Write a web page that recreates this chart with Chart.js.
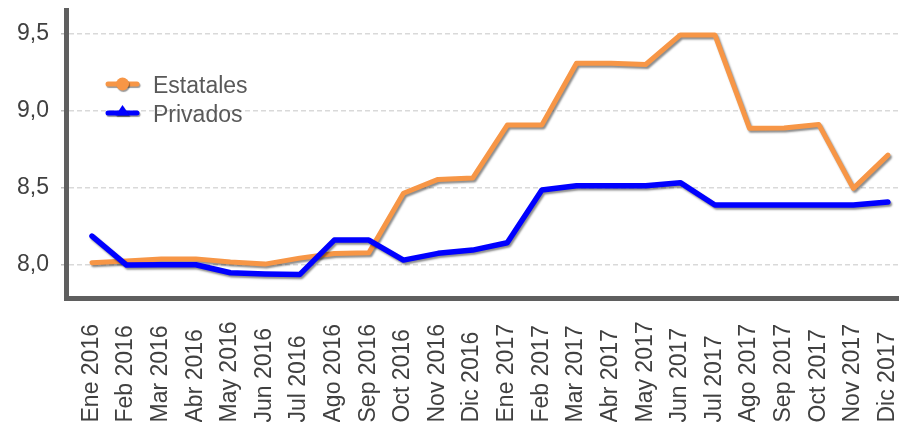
<!DOCTYPE html>
<html>
<head>
<meta charset="utf-8">
<script src="https://cdn.jsdelivr.net/npm/chart.js@4"></script>
<style>
  html, body { margin: 0; padding: 0; background: #fff; }
</style>
</head>
<body>
<canvas id="tasasChart" width="899" height="422"></canvas>
<script>
  const months = [
    "Ene 2016", "Feb 2016", "Mar 2016", "Abr 2016", "May 2016", "Jun 2016",
    "Jul 2016", "Ago 2016", "Sep 2016", "Oct 2016", "Nov 2016", "Dic 2016",
    "Ene 2017", "Feb 2017", "Mar 2017", "Abr 2017", "May 2017", "Jun 2017",
    "Jul 2017", "Ago 2017", "Sep 2017", "Oct 2017", "Nov 2017", "Dic 2017"
  ];
  const estatales = [
    8.015, 8.026, 8.04, 8.04, 8.02, 8.006, 8.045, 8.075, 8.08, 8.466, 8.556, 8.565,
    8.909, 8.91, 9.31, 9.31, 9.302, 9.494, 9.494, 8.888, 8.89, 8.913, 8.498, 8.714
  ];
  const privados = [
    8.188, 8.0, 8.002, 8.002, 7.95, 7.942, 7.938, 8.162, 8.162, 8.032, 8.076, 8.097,
    8.145, 8.487, 8.515, 8.515, 8.515, 8.535, 8.39, 8.39, 8.39, 8.39, 8.39, 8.41
  ];
  const yTicks = [8.0, 8.5, 9.0, 9.5];

  const FONT = "'Liberation Sans', Arial, sans-serif";

  // grey drop shadow under the lines, like the original
  const shadowPlugin = {
    id: "lineShadow",
    beforeDatasetDraw(chart) {
      const ctx = chart.ctx;
      ctx.save();
      ctx.shadowColor = "rgba(0,0,0,0.45)";
      ctx.shadowOffsetX = 1.5;
      ctx.shadowOffsetY = 2;
      ctx.shadowBlur = 2;
    },
    afterDatasetDraw(chart) {
      chart.ctx.restore();
    }
  };

  // month labels, rotated, starting at the bottom edge
  const monthLabels = {
    id: "monthLabels",
    afterDraw(chart) {
      const ctx = chart.ctx;
      const xScale = chart.scales.x;
      ctx.save();
      ctx.font = "23px " + FONT;
      ctx.fillStyle = "#404040";
      ctx.textAlign = "left";
      ctx.textBaseline = "middle";
      months.forEach((m, i) => {
        ctx.save();
        ctx.translate(xScale.getPixelForValue(i) - 0.5, 422.5);
        ctx.rotate(-Math.PI / 2);
        ctx.fillText(m, 0, 0);
        ctx.restore();
      });
      ctx.restore();
    }
  };

  // legend with line + marker, sitting inside the plot
  const lineLegend = {
    id: "lineLegend",
    afterDraw(chart) {
      const ctx = chart.ctx;
      const rows = [84, 113];
      const x0 = 108, x1 = 137, xm = 122.5;
      chart.data.datasets.forEach((ds, i) => {
        const y = rows[i];
        ctx.save();
        ctx.shadowColor = "rgba(0,0,0,0.4)";
        ctx.shadowOffsetX = 1;
        ctx.shadowOffsetY = 1.5;
        ctx.shadowBlur = 1;
        ctx.strokeStyle = ds.borderColor;
        ctx.fillStyle = ds.borderColor;
        ctx.lineWidth = 5;
        ctx.lineCap = "round";
        ctx.beginPath();
        ctx.moveTo(x0, y);
        ctx.lineTo(x1, y);
        ctx.stroke();
        ctx.beginPath();
        if (ds.pointStyle === "triangle") {
          ctx.moveTo(xm, y - 8);
          ctx.lineTo(xm + 7, y + 2.5);
          ctx.lineTo(xm - 7, y + 2.5);
          ctx.closePath();
        } else {
          ctx.arc(xm, y, 6.5, 0, Math.PI * 2);
        }
        ctx.fill();
        ctx.restore();

        ctx.save();
        ctx.font = "23px " + FONT;
        ctx.fillStyle = "#595959";
        ctx.textAlign = "left";
        ctx.textBaseline = "alphabetic";
        ctx.fillText(ds.label, 153, y + 9);
        ctx.restore();
      });
    }
  };

  const ctx = document.getElementById("tasasChart").getContext("2d");
  const chart = new Chart(ctx, {
    type: "line",
    data: {
      datasets: [
        {
          label: "Estatales",
          data: estatales.map((v, i) => ({ x: i, y: v })),
          borderColor: "#F79646",
          backgroundColor: "#F79646",
          borderWidth: 5,
          borderCapStyle: "round",
          borderJoinStyle: "round",
          pointRadius: 0,
          pointStyle: "circle",
          tension: 0,
          order: 2,
        },
        {
          label: "Privados",
          data: privados.map((v, i) => ({ x: i, y: v })),
          borderColor: "#0000FF",
          backgroundColor: "#0000FF",
          borderWidth: 5.5,
          borderCapStyle: "round",
          borderJoinStyle: "round",
          pointRadius: 0,
          pointStyle: "triangle",
          tension: 0,
          order: 1,
        },
      ],
    },
    options: {
      responsive: false,
      animation: false,
      layout: { padding: { top: 10, right: 0, left: 0, bottom: 0 } },
      plugins: {
        legend: { display: false },
        tooltip: { enabled: false },
      },
      scales: {
        x: {
          type: "linear",
          min: -0.751,
          max: 23.32,
          grid: { display: false },
          border: { display: true, color: "#5f5f5f", width: 5 },
          ticks: { display: false },
          afterFit(scale) {
            scale.height = 124;
            scale.paddingLeft = 0;
            scale.paddingRight = 0;
          },
        },
        y: {
          min: 7.786,
          max: 9.656,
          afterBuildTicks(axis) {
            axis.ticks = yTicks.map((v) => ({ value: v }));
          },
          afterFit(scale) {
            scale.width = 66;
            scale.paddingTop = 0;
            scale.paddingBottom = 0;
          },
          grid: {
            color: "#d9d9d9",
            lineWidth: 1.5,
            tickLength: 5,
            tickColor: "#bfbfbf",
            tickWidth: 1.5,
          },
          border: { display: true, color: "#5f5f5f", width: 5, dash: [5, 3] },
          ticks: {
            padding: 12,
            color: "#404040",
            font: { family: FONT, size: 23 },
            callback: (v) => v.toFixed(1).replace(".", ","),
          },
        },
      },
    },
    plugins: [shadowPlugin, monthLabels, lineLegend],
  });
</script>
</body>
</html>
